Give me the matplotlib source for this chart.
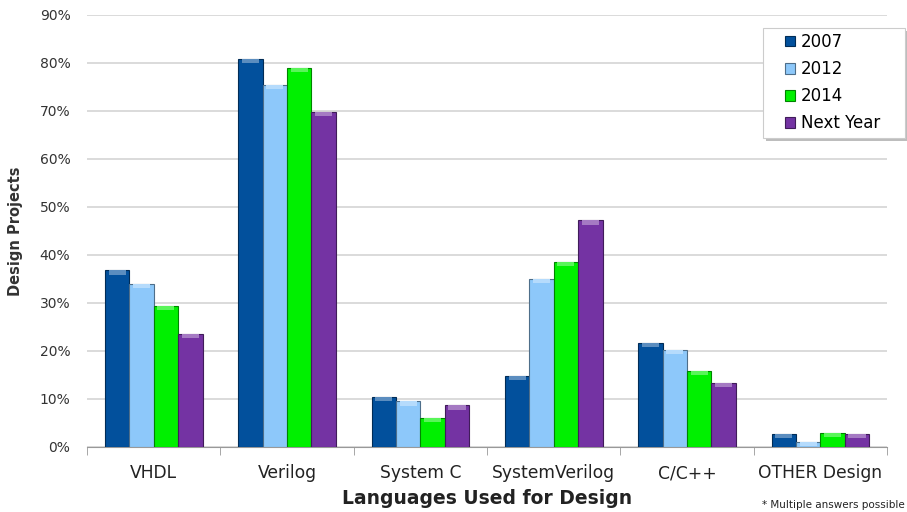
import matplotlib
matplotlib.use("Agg")
import matplotlib.pyplot as plt
import numpy as np
from matplotlib.colors import to_rgb
from matplotlib.patches import Rectangle

categories = ["VHDL", "Verilog", "System C", "SystemVerilog", "C/C++", "OTHER Design"]
series_names = ["2007", "2012", "2014", "Next Year"]
v2007 = [36.8, 80.8, 10.5, 14.8, 21.7, 2.7]
v2012 = [34.0, 75.4, 9.5, 35.0, 20.2, 1.0]
v2014 = [29.4, 79.0, 6.0, 38.6, 15.8, 2.9]
vnext = [23.5, 69.8, 8.7, 47.2, 13.3, 2.7]
yticks = [0, 10, 20, 30, 40, 50, 60, 70, 80, 90]

colors = ["#02509C", "#8DC8FA", "#00F000", "#7433A3"]
series = [v2007, v2012, v2014, vnext]

plt.rcParams['font.family'] = ['DejaVu Sans']

fig = plt.figure(figsize=(9.07, 5.12), dpi=100)
ax = fig.add_axes([0.096, 0.127, 0.882, 0.844])

def shade(c, f):
    r, g, b = to_rgb(c)
    if f < 1:
        return (r * f, g * f, b * f)
    return (r + (1 - r) * (f - 1), g + (1 - g) * (f - 1), b + (1 - b) * (f - 1))

x = np.arange(len(categories))
bw = 0.183
offsets = (np.arange(4) - 1.5) * bw
for i, (vals, c, name) in enumerate(zip(series, colors, series_names)):
    ax.bar(x + offsets[i], vals, width=bw, color=c,
           edgecolor=shade(c, 0.55), linewidth=0.8, label=name, zorder=3)
    # bevelled top highlight
    cap = np.minimum(np.array(vals), 0.9)
    ax.bar(x + offsets[i], cap, width=bw * 0.7, bottom=np.array(vals) - cap,
           color=shade(c, 1.35), linewidth=0, zorder=4)

ax.set_xlim(-0.5, len(categories) - 0.5)
ax.set_ylim(0, 90)
ax.set_yticks(yticks)
ax.set_yticklabels([f"{t}%" for t in yticks], fontsize=10, color="#333333")
ax.yaxis.grid(True, color="#d4d4d4", linewidth=1.2, zorder=0)
ax.set_axisbelow(True)
ax.tick_params(axis="y", length=0, pad=12)

ax.set_xticks(x)
ax.set_xticklabels(categories, fontsize=12.3, color="#222222")
ax.set_xticks(np.arange(len(categories) + 1) - 0.5, minor=True)
ax.tick_params(axis="x", which="major", length=0, pad=12.5)
ax.tick_params(axis="x", which="minor", length=6, color="#999999")

for s in ["top", "right", "left"]:
    ax.spines[s].set_visible(False)
ax.spines["bottom"].set_color("#999999")

ax.set_ylabel("Design Projects", fontsize=10.5, fontweight="bold", color="#333333", labelpad=12)
ax.set_xlabel("Languages Used for Design", fontsize=13.5, fontweight="bold", color="#222222", labelpad=5)

fig.text(0.998, 0.004, "* Multiple answers possible", fontsize=7.5, ha="right", va="bottom", color="#222222")

# legend box with drop shadow
W, H = 907.0, 512.0
bx, by, bwid, bht = 763 / W, 1 - 138 / H, 142 / W, 110 / H
ax.add_patch(Rectangle((bx + 3 / W, by - 3 / H), bwid, bht, transform=fig.transFigure,
                       facecolor="#bdbdbd", edgecolor="none", zorder=8, clip_on=False))
ax.add_patch(Rectangle((bx, by), bwid, bht, transform=fig.transFigure,
                       facecolor="white", edgecolor="#cccccc", linewidth=0.8, zorder=9, clip_on=False))
leg = ax.legend(loc="upper left", bbox_to_anchor=(785 / W, 1 - 33 / H), bbox_transform=fig.transFigure,
                borderaxespad=0, fontsize=12, frameon=False,
                handlelength=0.6, handleheight=0.6, handletextpad=0.35,
                labelspacing=0.55, borderpad=0)
leg.set_zorder(10)

fig.savefig("out.png", dpi=100)
